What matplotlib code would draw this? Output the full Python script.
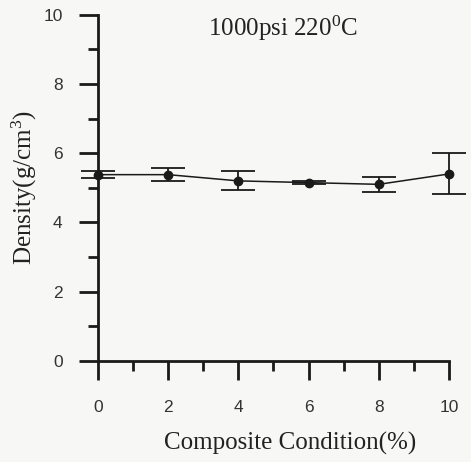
import matplotlib.pyplot as plt
from matplotlib.ticker import MultipleLocator

# Density vs composite condition
composite = [0, 2, 4, 6, 8, 10]
density = [5.38, 5.38, 5.20, 5.15, 5.10, 5.40]
err_low = [0.10, 0.19, 0.27, 0.04, 0.22, 0.58]
err_high = [0.10, 0.19, 0.28, 0.04, 0.22, 0.61]

serif = "Liberation Serif"
plt.rcParams["font.family"] = "Liberation Sans"
plt.rcParams["mathtext.fontset"] = "custom"
plt.rcParams["mathtext.rm"] = serif
plt.rcParams["mathtext.it"] = serif

fig = plt.figure(figsize=(4.71, 4.62), dpi=100, facecolor="#f7f7f5")
ax = fig.add_axes([0.208, 0.219, 0.745, 0.749])
ax.set_facecolor("#f7f7f5")

ax.errorbar(composite, density, yerr=[err_low, err_high], color="#1a1a1a",
            marker="o", markersize=6, linewidth=1.1, elinewidth=1.3,
            capsize=12.5, capthick=1.3, clip_on=False, zorder=3)

ax.set_xlim(0, 10)
ax.set_ylim(0, 10)
ax.xaxis.set_major_locator(MultipleLocator(2))
ax.xaxis.set_minor_locator(MultipleLocator(1))
ax.yaxis.set_major_locator(MultipleLocator(2))
ax.yaxis.set_minor_locator(MultipleLocator(1))

for s in ["top", "right"]:
    ax.spines[s].set_visible(False)
for s in ["left", "bottom"]:
    ax.spines[s].set_linewidth(2)
    ax.spines[s].set_color("#1a1a1a")

ax.tick_params(which="major", direction="out", length=13.5, width=2,
               color="#1a1a1a", labelsize=12.5, labelcolor="#333333")
ax.tick_params(which="minor", direction="out", length=7, width=2, color="#1a1a1a")
ax.tick_params(axis="x", which="major", pad=15)
ax.tick_params(axis="y", which="major", pad=12)

ax.set_xlabel("Composite Condition(%)", fontfamily=serif, fontsize=18,
              color="#222222", labelpad=15)
ax.xaxis.set_label_coords(0.547, -0.205)
ax.set_ylabel("Density(g/cm$^3$)", fontfamily=serif, fontsize=18,
              color="#222222", labelpad=3)
ax.text(5.27, 9.62, "1000psi 220$^0$C", fontfamily=serif, fontsize=18,
        ha="center", va="center", color="#222222")

fig.savefig("out.png", dpi=100, facecolor=fig.get_facecolor())
